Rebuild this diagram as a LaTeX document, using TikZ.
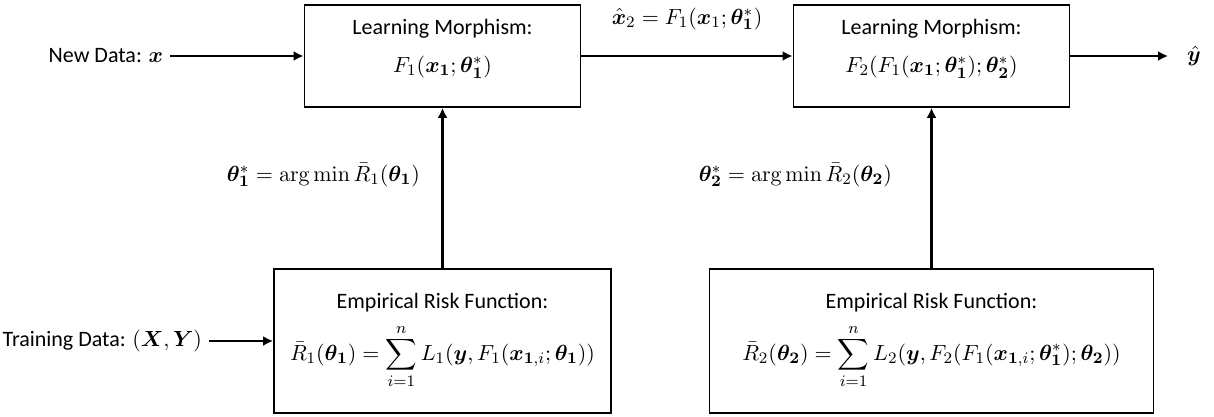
\documentclass[tikz,border=0pt]{standalone}
\usepackage{amsmath,bm}
\usepackage[no-math]{fontspec}
\setmainfont{Carlito}
\usetikzlibrary{arrows.meta, positioning}
% raise a line without changing its size
\newcommand{\liftup}[1]{\raisebox{3.5pt}[\height][\depth]{#1}}

\begin{document}
\begin{tikzpicture}[x=0.5pt, y=-0.5pt,
    morph/.style={rectangle, draw, line width=0.9pt, align=center, font=\fontsize{11}{13}\selectfont, minimum width=138pt, minimum height=51pt},
    risk/.style={rectangle, draw, line width=0.9pt, align=center, font=\fontsize{11}{13}\selectfont, minimum height=72pt},
    arrow/.style={-{Latex[length=5pt,width=5pt]}, line width=1.4pt},
    signal/.style={font=\fontsize{11}{13}\selectfont}
]
\useasboundingbox (0,0) rectangle (1214,417);

\node[morph] (lm1) at (442.5,56) {\liftup{Learning Morphism:}\\[6pt] \liftup{$F_1(\bm{x}_{\bm 1};\bm{\theta}^*_{\bm 1})$}};
\node[morph] (lm2) at (931.5,56) {\liftup{Learning Morphism:}\\[6pt] \liftup{$F_2(F_1(\bm{x}_{\bm 1};\bm{\theta}^*_{\bm 1});\bm{\theta}^*_{\bm 2})$}};
\node[risk, minimum width=168.5pt] (er1) at (442.5,341) {Empirical Risk Function:\\[5pt] $\displaystyle \bar{R}_1(\bm{\theta}_{\bm 1})=\sum_{i=1}^{n}L_1(\bm{y},F_1(\bm{x}_{\bm{1},i};\bm{\theta}_{\bm 1}))$};
\node[risk, minimum width=222pt] (er2) at (931.5,341) {Empirical Risk Function:\\[5pt] $\displaystyle \bar{R}_2(\bm{\theta}_{\bm 2})=\sum_{i=1}^{n}L_2(\bm{y},F_2(F_1(\bm{x}_{\bm{1},i};\bm{\theta}^*_{\bm 1});\bm{\theta}_{\bm 2}))$};

\node[signal, anchor=east] (newdata) at (170,56) {New Data: $\bm{x}$};
\node[signal, anchor=east] (train) at (209,341) {Training Data: $(\bm{X},\bm{Y})$};
\node[signal] (yhat) at (1194,56) {$\hat{\bm{y}}$};
\node[signal, anchor=east] (th1) at (427,175) {$\bm{\theta}^*_{\bm 1}=\arg\min\bar{R}_1(\bm{\theta}_{\bm 1})$};
\node[signal, anchor=east] (th2) at (899,175) {$\bm{\theta}^*_{\bm 2}=\arg\min\bar{R}_2(\bm{\theta}_{\bm 2})$};

\draw[arrow] (newdata) -- (lm1);
\draw[arrow] (lm1) -- (lm2) node[midway, above=9pt, signal] {$\hat{\bm{x}}_2=F_1(\bm{x}_1;\bm{\theta}^*_{\bm 1})$};
\draw[arrow, shorten >=6pt] (lm2) -- (yhat);
\draw[arrow] (train) -- (er1);
\draw[arrow] (er1) -- (lm1);
\draw[arrow] (er2) -- (lm2);

\end{tikzpicture}
\end{document}
